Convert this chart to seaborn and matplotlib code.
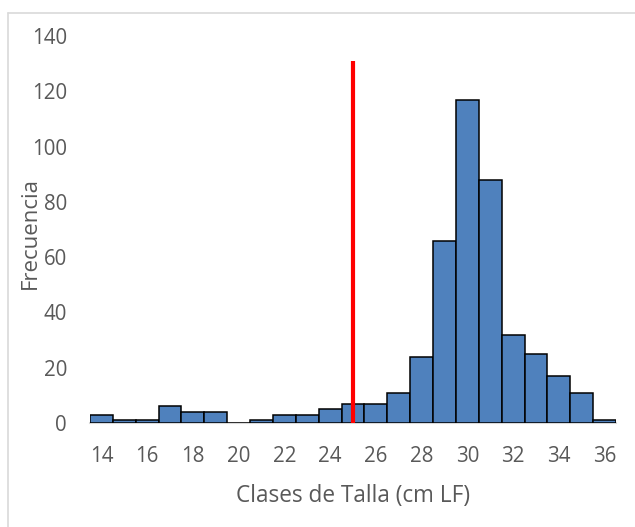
import numpy as np
import pandas as pd
import matplotlib
matplotlib.use("Agg")
import matplotlib.pyplot as plt
import seaborn as sns

# datos
clases = [14, 15, 16, 17, 18, 19, 20, 21, 22, 23, 24, 25, 26, 27, 28, 29, 30, 31, 32, 33, 34, 35, 36]
frecuencia = [3, 1, 1, 6, 4, 4, 0, 1, 3, 3, 5, 7, 7, 11, 24, 66, 117, 88, 32, 25, 17, 11, 1]
talla_ref = 25
linea_max = 131
yticks = [0, 20, 40, 60, 80, 100, 120, 140]

df = pd.DataFrame({"clase": [str(c) for c in clases], "frecuencia": frecuencia})

sns.set_style("white")
plt.rcParams['font.family'] = ['Open Sans', 'DejaVu Sans']
gris = "#595959"

fig = plt.figure(figsize=(6.35, 5.27), dpi=100)
ax = fig.add_axes([90/635, 104/527, 526/635, 387/527])

sns.barplot(data=df, x="clase", y="frecuencia", order=df["clase"], color="#4F81BD",
            saturation=1, width=1.0, edgecolor="black", linewidth=1.1, ax=ax)

pos = clases.index(talla_ref)
ax.vlines(pos, 0, linea_max, color="#FF0000", linewidth=3, zorder=5)

ax.set_xlim(-0.5, len(clases) - 0.5)
ax.set_ylim(0, 140)
ax.set_yticks(yticks)
ax.set_xticks(range(len(clases)))
ax.set_xticklabels([str(c) if c % 2 == 0 else "" for c in clases])
ax.tick_params(axis="both", length=0, labelsize=14.8, labelcolor=gris)
ax.tick_params(axis="y", pad=16.5)
ax.tick_params(axis="x", pad=16.5)

for s in ["left", "right", "top"]:
    ax.spines[s].set_visible(False)
ax.spines["bottom"].set_color("#D9D9D9")
ax.spines["bottom"].set_linewidth(1.5)
ax.spines["bottom"].set_zorder(0)

ax.set_xlabel("Clases de Talla (cm LF)", fontsize=16.3, color=gris, labelpad=12)
ax.set_ylabel("Frecuencia", fontsize=16, color=gris)
ax.yaxis.set_label_coords(-0.093, 0.49)

# borde del area del grafico
fig.add_artist(plt.Line2D([8/635, 8/635], [0, 1 - 13/527], color="#D9D9D9", linewidth=1.2))
fig.add_artist(plt.Line2D([8/635, 1], [1 - 13/527, 1 - 13/527], color="#D9D9D9", linewidth=1.2))

plt.savefig("out.png", dpi=100)
